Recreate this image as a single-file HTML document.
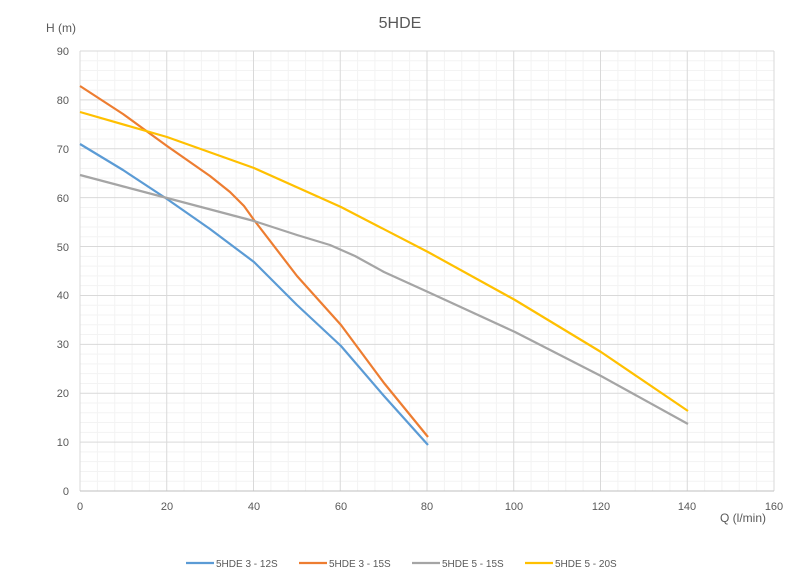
<!DOCTYPE html>
<html><head><meta charset="utf-8"><style>
body{margin:0;background:#fff;}
svg{display:block;font-family:"Liberation Sans",sans-serif;}
</style></head><body>
<svg width="800" height="584" viewBox="0 0 800 584">
<rect width="800" height="584" fill="#fff"/>
<g id="minor" stroke="#f3f3f3" stroke-width="1"></g>
<g id="major" stroke="#d9d9d9" stroke-width="1"></g>
<script>
var mi=document.getElementById('minor'),ma=document.getElementById('major'),ns='http://www.w3.org/2000/svg';
function ln(g,x1,y1,x2,y2){var l=document.createElementNS(ns,'line');l.setAttribute('x1',x1);l.setAttribute('y1',y1);l.setAttribute('x2',x2);l.setAttribute('y2',y2);g.appendChild(l);}
for(var q=0;q<=160;q+=4){var x=80+q*4.3375;ln(q%20==0?ma:mi,x,51,x,491);}
for(var h=0;h<=90;h+=2){var y=491-h*4.8889;ln(h%10==0?ma:mi,80,y,774,y);}
</script>
<line x1="80" y1="491" x2="774" y2="491" stroke="#bfbfbf"/>
<g font-size="11" fill="#595959" text-anchor="end">
<text x="69" y="495">0</text><text x="69" y="446">10</text><text x="69" y="397">20</text><text x="69" y="348">30</text><text x="69" y="299">40</text><text x="69" y="251">50</text><text x="69" y="202">60</text><text x="69" y="153">70</text><text x="69" y="104">80</text><text x="69" y="55">90</text>
</g>
<g font-size="11" fill="#595959" text-anchor="middle">
<text x="80" y="510">0</text><text x="167" y="510">20</text><text x="254" y="510">40</text><text x="341" y="510">60</text><text x="427" y="510">80</text><text x="514" y="510">100</text><text x="601" y="510">120</text><text x="687" y="510">140</text><text x="774" y="510">160</text>
</g>
<text x="46" y="32" font-size="12" fill="#595959">H (m)</text>
<text x="720" y="522" font-size="12" fill="#595959">Q (l/min)</text>
<text x="400" y="28" font-size="16" fill="#595959" text-anchor="middle">5HDE</text>
<g fill="none" stroke-width="2.2" stroke-linejoin="round">
<polyline stroke="#5b9bd5" points="80,144 123,170 167,199 210,229 254,262 297,305 341,346 384,396 428,445"/>
<polyline stroke="#ed7d31" points="80,86 123,114 167,146 210,176 230,192 244,206 254,220 297,276 341,325 384,383 428,437"/>
<polyline stroke="#a5a5a5" points="80,175 167,198 254,221 297,235 330,245 355,256 384,272 428,292 515,332 601,376 688,424"/>
<polyline stroke="#ffc000" points="80,112 167,137 254,168 341,207 428,252 515,300 601,352 688,411"/>
</g>
<g font-size="10" fill="#595959">
<line x1="186" y1="563" x2="214" y2="563" stroke="#5b9bd5" stroke-width="2.2"/><text x="216" y="567">5HDE 3 - 12S</text>
<line x1="299" y1="563" x2="327" y2="563" stroke="#ed7d31" stroke-width="2.2"/><text x="329" y="567">5HDE 3 - 15S</text>
<line x1="412" y1="563" x2="440" y2="563" stroke="#a5a5a5" stroke-width="2.2"/><text x="442" y="567">5HDE 5 - 15S</text>
<line x1="525" y1="563" x2="553" y2="563" stroke="#ffc000" stroke-width="2.2"/><text x="555" y="567">5HDE 5 - 20S</text>
</g>
</svg>
</body></html>
